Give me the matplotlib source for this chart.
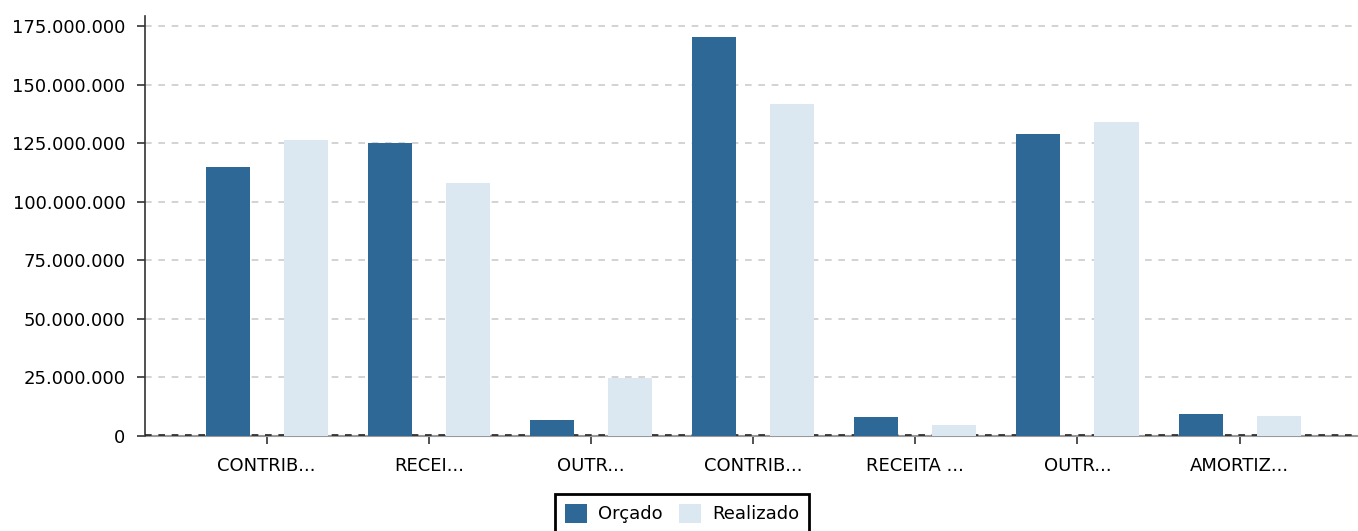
import matplotlib
matplotlib.use("Agg")
import matplotlib.pyplot as plt
from matplotlib.ticker import FuncFormatter
from matplotlib.patches import Patch
import numpy as np

categories = ["CONTRIB...", "RECEI...", "OUTR...", "CONTRIB...", "RECEITA ...", "OUTR...", "AMORTIZ..."]
orcado = [114.8e6, 125.0e6, 7.0e6, 170.3e6, 8.3e6, 128.8e6, 9.2e6]
realizado = [126.3e6, 107.9e6, 24.7e6, 141.8e6, 4.9e6, 134.0e6, 8.4e6]
series_names = ["Orçado", "Realizado"]
colors = ["#2e6896", "#dbe7f1"]
yticks = [0, 25e6, 50e6, 75e6, 100e6, 125e6, 150e6, 175e6]

plt.rcParams['font.family'] = ['DejaVu Sans']

fig = plt.figure(figsize=(13.58, 5.31), dpi=100)
ax = fig.add_axes([145/1358, 1 - 436/531, 1 - 145/1358, (436 - 16)/531])

x = np.arange(len(categories))
w = 0.2716
off = 0.2407
ax.bar(x - off, orcado, width=w, color=colors[0], zorder=3)
ax.bar(x + off, realizado, width=w, color=colors[1], zorder=3)

ax.set_xlim(-0.75, 6.73)
ax.set_ylim(0, 179.3e6)
ax.set_xticks(x)
ax.set_xticklabels(categories, fontsize=13)
ax.set_yticks(yticks)

def fmt(v, pos):
    return "{:,.0f}".format(v).replace(",", ".")

ax.yaxis.set_major_formatter(FuncFormatter(fmt))
ax.tick_params(axis='y', labelsize=13, length=6, width=1.2, color='#333333', pad=8)
ax.tick_params(axis='x', labelsize=13, length=6, width=1.2, color='#333333', pad=9)

ax.set_axisbelow(True)
for t in yticks[1:]:
    ax.axhline(t, color='#cccccc', linestyle=(0, (4, 4)), linewidth=1.2, zorder=1)

for s in ['top', 'right']:
    ax.spines[s].set_visible(False)
ax.spines['left'].set_color('#333333')
ax.spines['left'].set_linewidth(1.2)
ax.spines['bottom'].set_color('#999999')
ax.spines['bottom'].set_linewidth(1.5)
ax.spines['bottom'].set_zorder(2)
ax.axhline(0.25e6, color='#222222', linestyle=(0, (4, 4)), linewidth=1.2, zorder=2.6)

handles = [Patch(facecolor=c, edgecolor='none') for c in colors]
leg = fig.legend(handles, series_names, loc='upper center', bbox_to_anchor=(682/1358, 1 - 494/531),
                 ncol=2, fontsize=13, frameon=True, fancybox=False, framealpha=1,
                 edgecolor='black', handlelength=1.22, handleheight=1.22,
                 handletextpad=0.6, columnspacing=0.95, borderpad=0.55, borderaxespad=0)
leg.get_frame().set_linewidth(2)

fig.savefig("out.png", dpi=100)
